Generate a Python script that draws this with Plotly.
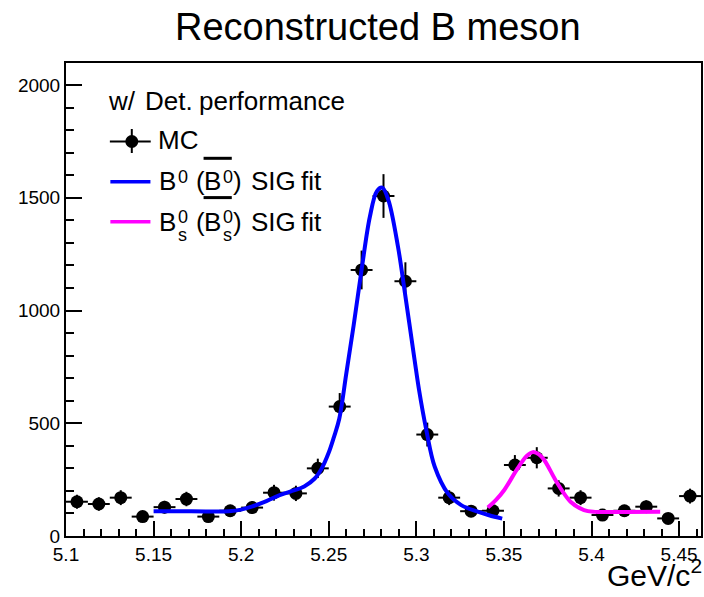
import plotly.graph_objects as go

# ---------------- data ----------------
bin_centers = [5.10625, 5.11875, 5.13125, 5.14375, 5.15625, 5.16875, 5.18125, 5.19375,
               5.20625, 5.21875, 5.23125, 5.24375, 5.25625, 5.26875, 5.28125, 5.29375,
               5.30625, 5.31875, 5.33125, 5.34375, 5.35625, 5.36875, 5.38125, 5.39375,
               5.40625, 5.41875, 5.43125, 5.44375, 5.45625]
mc_counts = [152, 142, 170, 86, 128, 164, 86, 112, 126, 192, 189, 300, 574, 1180, 1508,
             1130, 450, 170, 110, 112, 315, 347, 211, 170, 93, 112, 130, 78, 177]
mc_errors = [31, 30, 33, 23, 28, 32, 23, 26, 28, 35, 34, 43, 60, 86, 97,
             84, 53, 33, 26, 26, 44, 47, 36, 33, 24, 26, 28, 22, 33]
bin_half_width = [0.00625] * len(bin_centers)

b0_fit_x = [5.150, 5.165, 5.180, 5.193, 5.200, 5.206, 5.213, 5.220, 5.228, 5.236, 5.242,
            5.246, 5.250, 5.253, 5.256, 5.260, 5.2645, 5.269, 5.2735, 5.2775, 5.2805,
            5.284, 5.2895, 5.2935, 5.299, 5.3015, 5.3057, 5.3105, 5.318, 5.3256, 5.335,
            5.3415, 5.349]
b0_fit_y = [110, 110, 109, 110, 117, 130, 150, 175, 197, 220, 255,
            300, 370, 440, 520, 720, 950, 1195, 1417, 1530, 1545,
            1491, 1284, 1077, 781, 650, 470, 307, 189, 137, 108,
            92, 77]

bs_fit_x = [5.3408, 5.3455, 5.3502, 5.3578, 5.3630, 5.3665, 5.3700, 5.3730, 5.3805,
            5.3880, 5.3957, 5.4020, 5.4070, 5.4200, 5.4392]
bs_fit_y = [126, 160, 204, 300, 355, 372, 362, 337, 234, 152, 115, 107, 106, 107, 108]

x_tick_vals = [5.1, 5.15, 5.2, 5.25, 5.3, 5.35, 5.4, 5.45]
x_tick_text = ["5.1", "5.15", "5.2", "5.25", "5.3", "5.35", "5.4", "5.45"]
y_tick_vals = [0, 500, 1000, 1500, 2000]
y_tick_text = ["0", "500", "1000", "1500", "2000"]

# ---------------- layout geometry ----------------
W, H = 704, 597
L, R, T, B = 66, 703, 63, 536
FONT = "Liberation Sans, Arial, Helvetica, sans-serif"


def px(xp):
    return (xp - L) / (R - L)


def py(yp):
    return (B - yp) / (B - T)


fig = go.Figure()

fig.add_trace(go.Scatter(
    x=bin_centers, y=mc_counts, mode="markers",
    marker=dict(color="black", size=13),
    error_y=dict(type="data", array=mc_errors, color="black", thickness=2, width=0),
    error_x=dict(type="data", array=bin_half_width, color="black", thickness=2, width=0),
    showlegend=False, cliponaxis=False,
))
fig.add_trace(go.Scatter(
    x=b0_fit_x, y=b0_fit_y, mode="lines", line=dict(color="#0000ff", width=4, shape="spline"),
    showlegend=False,
))
fig.add_trace(go.Scatter(
    x=bs_fit_x, y=bs_fit_y, mode="lines", line=dict(color="#ff00ff", width=4, shape="spline"),
    showlegend=False,
))

fig.update_layout(
    width=W, height=H,
    margin=dict(l=L, r=W - R, t=T, b=H - B),
    paper_bgcolor="white", plot_bgcolor="white",
    font=dict(family=FONT, color="black"),
    showlegend=False,
)
fig.update_xaxes(
    range=[5.1, 5.4625], showgrid=False, zeroline=False,
    showline=True, linecolor="black", linewidth=2, mirror=True,
    tickmode="array", tickvals=x_tick_vals, ticktext=x_tick_text,
    ticks="inside", ticklen=15, tickwidth=2, tickcolor="black",
    tickfont=dict(size=19, family=FONT),
    minor=dict(tickmode="linear", tick0=5.1, dtick=0.01, ticks="inside", ticklen=7,
               tickwidth=2, tickcolor="black", showgrid=False),
)
fig.update_yaxes(
    range=[0, 2098], showgrid=False, zeroline=False,
    showline=True, linecolor="black", linewidth=2, mirror=True,
    tickmode="array", tickvals=y_tick_vals, ticktext=y_tick_text,
    ticks="inside", ticklen=16, tickwidth=2, tickcolor="black",
    tickfont=dict(size=19, family=FONT),
    minor=dict(tickmode="linear", tick0=0, dtick=100, ticks="inside", ticklen=8,
               tickwidth=2, tickcolor="black", showgrid=False),
)

ann = []


def text(s, xp, yp, size, anchor="left"):
    ann.append(dict(text=s, x=px(xp), y=py(yp), xref="paper", yref="paper",
                    xanchor=anchor, yanchor="middle", showarrow=False,
                    font=dict(size=size, family=FONT, color="black")))


# title
text("Reconstructed B meson", 379, 27, 38, anchor="center")
# x-axis title
text("GeV/c<sup>2</sup>", 706, 573, 30, anchor="right")

# legend header
LS, SS = 26, 18
text("w/", 106, 101, LS)
text("Det.", 143, 101, LS)
text("performance", 197, 101, LS)
# MC
text("MC", 156, 140, LS)
# B0 line
text("B", 157, 181, LS)
text("0", 176, 177, SS)
text("(", 194, 181, LS)
text("B", 202, 181, LS)
text("0", 221, 177, SS)
text(")", 232, 181, LS)
text("SIG", 250, 181, LS)
text("fit", 300, 181, LS)
# Bs line
text("B", 157, 221.5, LS)
text("s", 176, 234.5, SS)
text("0", 176, 216.5, SS)
text("(", 194, 221.5, LS)
text("B", 202, 221.5, LS)
text("s", 221, 234.5, SS)
text("0", 221, 216.5, SS)
text(")", 232, 221.5, LS)
text("SIG", 250, 221.5, LS)
text("fit", 300, 221.5, LS)

fig.update_layout(annotations=ann)

shapes = []


def pline(x0, y0, x1, y1, color, width):
    shapes.append(dict(type="line", xref="paper", yref="paper",
                       x0=px(x0), y0=py(y0), x1=px(x1), y1=py(y1),
                       line=dict(color=color, width=width)))


# MC legend symbol
pline(110, 141.5, 151, 141.5, "black", 2)
pline(132, 129, 132, 153, "black", 2)
shapes.append(dict(type="circle", xref="paper", yref="paper",
                   x0=px(125.5), x1=px(138.5), y0=py(148), y1=py(135),
                   fillcolor="black", line=dict(color="black", width=0)))
# fit legend lines
pline(110.5, 181.7, 150.7, 181.7, "#0000ff", 3.5)
pline(110.5, 221.7, 150.7, 221.7, "#ff00ff", 3.5)
# bar over anti-B0
pline(204, 158.3, 232.3, 158.3, "black", 3)
pline(204, 197.6, 232.3, 197.6, "black", 3)

fig.update_layout(shapes=shapes)

fig.write_html("out.html")
